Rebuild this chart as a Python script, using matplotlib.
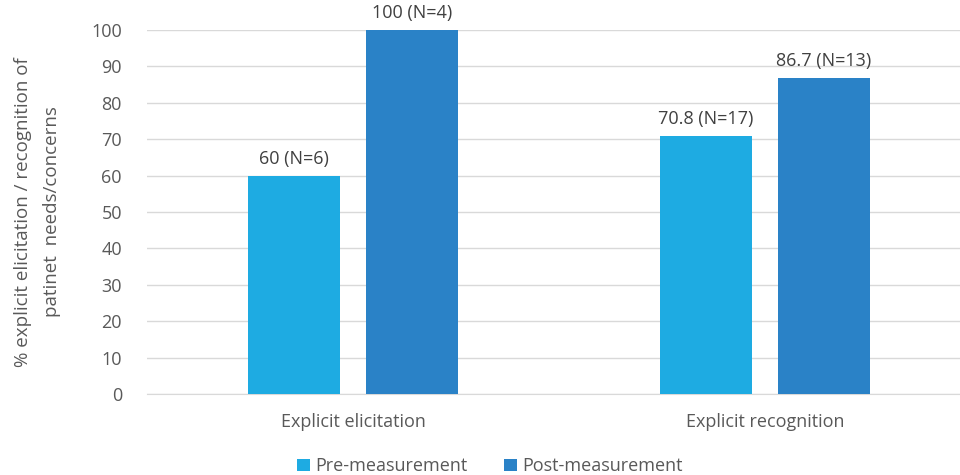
import matplotlib.pyplot as plt
import numpy as np

plt.rcParams['font.family'] = ['Open Sans', 'DejaVu Sans']

categories = ["Explicit elicitation", "Explicit recognition"]
pre = [60, 70.8]
post = [100, 86.7]
pre_labels = ["60 (N=6)", "70.8 (N=17)"]
post_labels = ["100 (N=4)", "86.7 (N=13)"]

c_pre = "#1EABE2"
c_post = "#2A82C7"
grey = "#595959"

fig = plt.figure(figsize=(9.6, 4.75), dpi=100)
ax = fig.add_axes([147 / 960, 81 / 475, 824 / 960, 364 / 475])

x = np.arange(len(categories))
w = 0.223
off = 0.143
b1 = ax.bar(x - off, pre, w, color=c_pre, label="Pre-measurement", zorder=3)
b2 = ax.bar(x + off, post, w, color=c_post, label="Post-measurement", zorder=3)

for bars, labs in [(b1, pre_labels), (b2, post_labels)]:
    for b, t in zip(bars, labs):
        ax.text(b.get_x() + b.get_width() / 2, b.get_height() + 2.2, t,
                ha="center", va="bottom", fontsize=13, color="#404040", clip_on=False)

ax.set_xlim(-0.5, 1.5)
ax.set_ylim(0, 100)
ax.set_yticks(range(0, 101, 10))
ax.set_xticks(x)
ax.set_xticklabels(categories)
ax.yaxis.grid(True, color="#D9D9D9", linewidth=1)
ax.set_axisbelow(True)
for s in ["top", "right", "left"]:
    ax.spines[s].set_visible(False)
ax.spines["bottom"].set_color("#D9D9D9")
ax.tick_params(axis="both", length=0, labelsize=13, colors=grey)
ax.tick_params(axis="x", pad=14)
ax.tick_params(axis="y", pad=18)
ax.set_ylabel("% explicit elicitation / recognition of\npatinet  needs/concerns",
              fontsize=13.5, color=grey, labelpad=22, linespacing=1.75)

fig.legend(loc="lower center", bbox_to_anchor=(490 / 960, -0.035), ncol=2, frameon=False,
           fontsize=13, labelcolor=grey, handlelength=0.7, handleheight=0.7,
           columnspacing=2.05, handletextpad=0.3)

fig.savefig("out.png", dpi=100)
